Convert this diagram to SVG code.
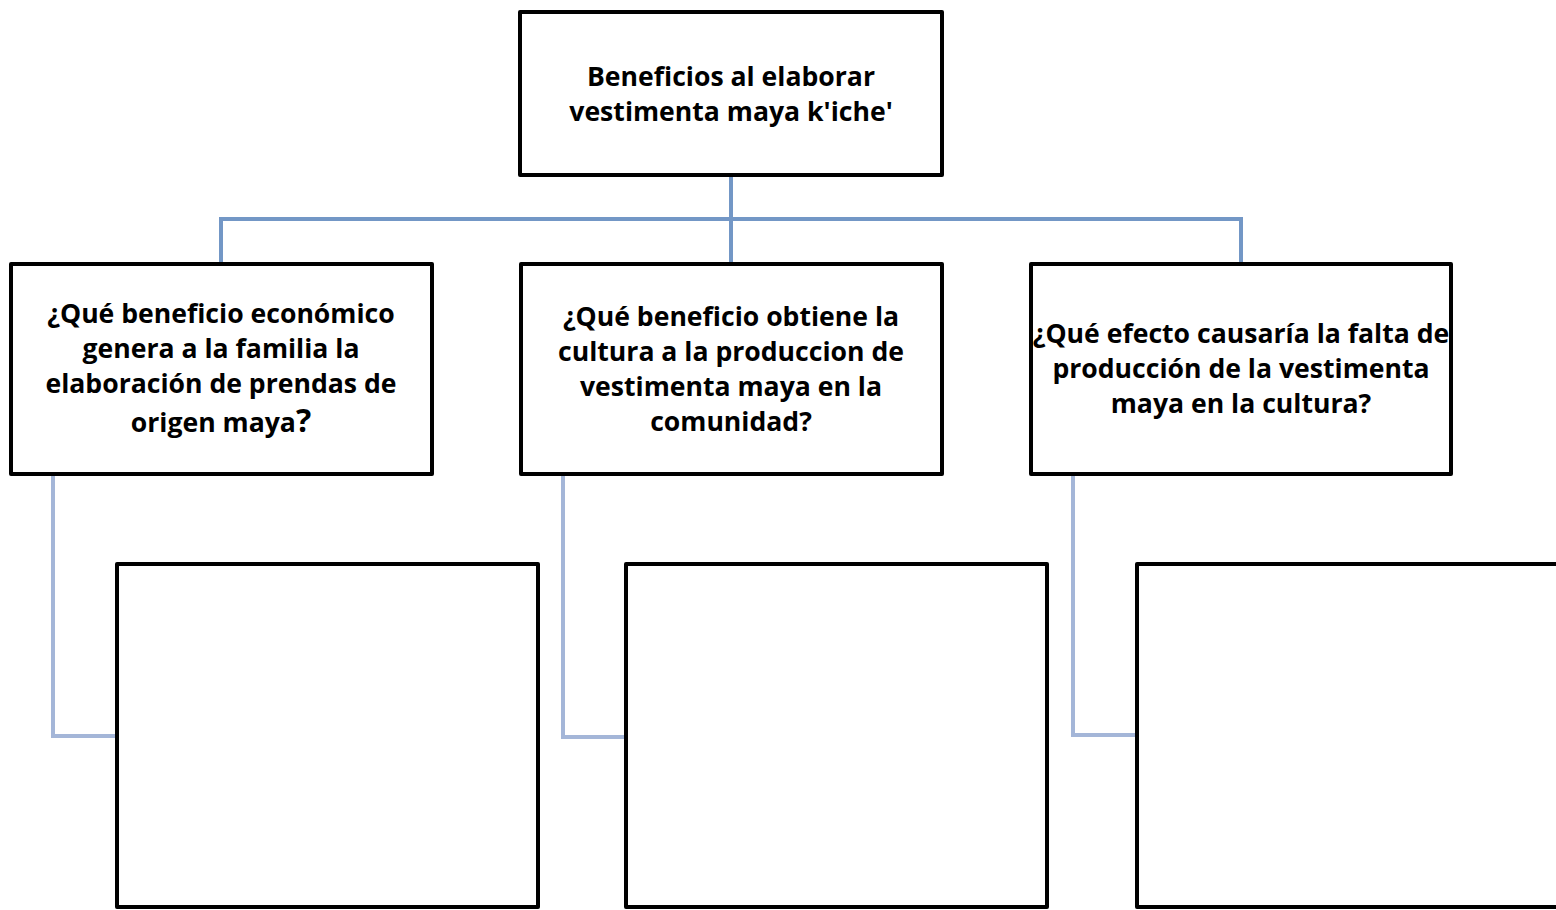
<svg xmlns="http://www.w3.org/2000/svg" width="1556" height="910" viewBox="0 0 1556 910">
<style>
.box{fill:#fff;stroke:#000;stroke-width:4;stroke-linejoin:round}
.t{font-family:"Open Sans","Liberation Sans",sans-serif;font-weight:bold;font-size:26.6px;fill:#000;text-anchor:middle}
.c1{fill:none;stroke:#7397c6;stroke-width:4}
.c2{fill:none;stroke:#a4b6d8;stroke-width:4}
</style>
<rect width="1556" height="910" fill="#fff"/>
<g id="connectors">
<path class="c1" d="M731 177V262M221 219H1241M221 217V262M1241 217V262"/>
<path class="c2" d="M53 475V736H116"/>
<path class="c2" d="M563 475V737H625"/>
<path class="c2" d="M1073 475V735H1136"/>
</g>
<g id="root">
<rect class="box" x="520" y="12" width="422" height="163"/>
<text class="t" x="731" y="86">Beneficios al elaborar</text>
<text class="t" x="731" y="121">vestimenta maya k'iche'</text>
</g>
<g id="q1">
<rect class="box" x="11" y="264" width="421" height="210"/>
<text class="t" x="221" y="323">¿Qué beneficio económico</text>
<text class="t" x="221" y="358">genera a la familia la</text>
<text class="t" x="221" y="393">elaboración de prendas de</text>
<text class="t" x="221" y="432">origen maya<tspan font-size="32">?</tspan></text>
</g>
<g id="q2">
<rect class="box" x="521" y="264" width="421" height="210"/>
<text class="t" x="731" y="326">¿Qué beneficio obtiene la</text>
<text class="t" x="731" y="361">cultura a la produccion de</text>
<text class="t" x="731" y="396">vestimenta maya en la</text>
<text class="t" x="731" y="431">comunidad?</text>
</g>
<g id="q3">
<rect class="box" x="1031" y="264" width="420" height="210"/>
<text class="t" x="1241" y="343">¿Qué efecto causaría la falta de</text>
<text class="t" x="1241" y="378">producción de la vestimenta</text>
<text class="t" x="1241" y="413">maya en la cultura?</text>
</g>
<g id="a1">
<rect class="box" x="117" y="564" width="421" height="343"/>
</g>
<g id="a2">
<rect class="box" x="626" y="564" width="421" height="343"/>
</g>
<g id="a3">
<rect class="box" x="1137" y="564" width="421" height="343"/>
</g>
</svg>
